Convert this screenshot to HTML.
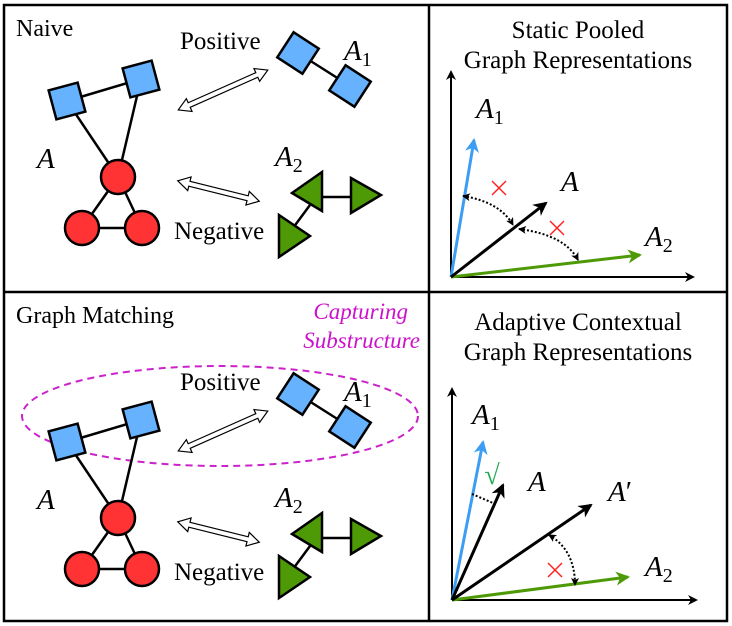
<!DOCTYPE html>
<html><head><meta charset="utf-8"><style>
html,body{margin:0;padding:0;background:#fff;}
svg{display:block;}
svg text{font-family:"Liberation Serif","Times New Roman","DejaVu Serif",serif;}
.it{font-style:italic;}
</style></head><body>
<svg width="732" height="626" viewBox="0 0 732 626" xmlns="http://www.w3.org/2000/svg" font-family="Liberation Serif, DejaVu Serif, serif">
<defs>
<marker id="ah" markerWidth="10" markerHeight="10" refX="8" refY="5" orient="auto" markerUnits="userSpaceOnUse" viewBox="0 0 10 10">
<path d="M0,0 L10,5 L0,10 L3,5 Z" fill="#000"/></marker>
<marker id="ahb" markerWidth="14" markerHeight="14" refX="12" refY="7" orient="auto" markerUnits="userSpaceOnUse" viewBox="0 0 14 14">
<path d="M0,0 L14,7 L0,14 L4,7 Z" fill="#000"/></marker>
<marker id="ahBlue" markerWidth="14" markerHeight="14" refX="12" refY="7" orient="auto" markerUnits="userSpaceOnUse" viewBox="0 0 14 14">
<path d="M0,0 L14,7 L0,14 L4,7 Z" fill="#3d9df3"/></marker>
<marker id="ahGreen" markerWidth="14" markerHeight="14" refX="12" refY="7" orient="auto" markerUnits="userSpaceOnUse" viewBox="0 0 14 14">
<path d="M0,0 L14,7 L0,14 L4,7 Z" fill="#4e9a06"/></marker>
<marker id="ahs" markerWidth="8" markerHeight="8" refX="7" refY="4" orient="auto" markerUnits="userSpaceOnUse" viewBox="0 0 8 8">
<path d="M0,0 L8,4 L0,8 L2,4 Z" fill="#000"/></marker>
<marker id="ahs0" markerWidth="8" markerHeight="8" refX="1" refY="4" orient="auto" markerUnits="userSpaceOnUse" viewBox="0 0 8 8">
<path d="M8,0 L0,4 L8,8 L6,4 Z" fill="#000"/></marker>
<g id="graphA">
<line x1="67" y1="101" x2="141" y2="79" stroke="#000" stroke-width="2.5"/>
<line x1="67" y1="101" x2="118" y2="177" stroke="#000" stroke-width="2.5"/>
<line x1="141" y1="79" x2="118" y2="177" stroke="#000" stroke-width="2.5"/>
<line x1="118" y1="177" x2="82" y2="228" stroke="#000" stroke-width="2.5"/>
<line x1="118" y1="177" x2="142" y2="228" stroke="#000" stroke-width="2.5"/>
<line x1="82" y1="228" x2="142" y2="228" stroke="#000" stroke-width="2.5"/>
<rect x="-15" y="-15" width="30" height="30" fill="#66b2ff" stroke="#000" stroke-width="2.5" transform="translate(67,101) rotate(-15)"/>
<rect x="-15" y="-15" width="30" height="30" fill="#66b2ff" stroke="#000" stroke-width="2.5" transform="translate(141,79) rotate(-15)"/>
<circle cx="118" cy="177" r="17" fill="#ff3333" stroke="#000" stroke-width="2.5"/>
<circle cx="82" cy="228" r="17" fill="#ff3333" stroke="#000" stroke-width="2.5"/>
<circle cx="142" cy="228" r="17" fill="#ff3333" stroke="#000" stroke-width="2.5"/>
<text x="37" y="168" font-size="29" class="it">A</text>
<text x="180" y="49" font-size="25">Positive</text>
<text x="174" y="239" font-size="25">Negative</text>
<polygon points="-49,0 -37,-7 -37,-2.5 37,-2.5 37,-7 49,0 37,7 37,2.5 -37,2.5 -37,7" fill="#fff" stroke="#000" stroke-width="1.2" transform="translate(223,90) rotate(-24)"/>
<polygon points="-42,0 -30,-7 -30,-2.5 30,-2.5 30,-7 42,0 30,7 30,2.5 -30,2.5 -30,7" fill="#fff" stroke="#000" stroke-width="1.2" transform="translate(218.5,191) rotate(14)"/>
<line x1="298" y1="53" x2="350" y2="86" stroke="#000" stroke-width="2.5"/>
<rect x="-15" y="-15" width="30" height="30" fill="#66b2ff" stroke="#000" stroke-width="2.5" transform="translate(298,53) rotate(33)"/>
<rect x="-15" y="-15" width="30" height="30" fill="#66b2ff" stroke="#000" stroke-width="2.5" transform="translate(350,86) rotate(33)"/>
<text x="344" y="60" font-size="29" class="it">A<tspan font-size="20" font-style="normal" dy="6">1</tspan></text>
<text x="275" y="166" font-size="29" class="it">A<tspan font-size="20" font-style="normal" dy="6">2</tspan></text>
<line x1="318" y1="197" x2="360" y2="197" stroke="#000" stroke-width="2.5"/>
<line x1="310" y1="205" x2="293" y2="228" stroke="#000" stroke-width="2.5"/>
<polygon points="292,193 322,172 322,211" fill="#4e9a06" stroke="#000" stroke-width="2.5"/>
<polygon points="351,178 381,195 351,213" fill="#4e9a06" stroke="#000" stroke-width="2.5"/>
<polygon points="279,215 310,236 279,257" fill="#4e9a06" stroke="#000" stroke-width="2.5"/>
</g>
<path id="xm" d="M-7,-7 L7,7 M7,-7 L-7,7" stroke="#ff2222" stroke-width="1.5" fill="none"/>
</defs>

<rect x="4" y="5" width="723" height="616" fill="none" stroke="#000" stroke-width="2.5"/>
<line x1="429" y1="5" x2="429" y2="621" stroke="#000" stroke-width="2.5"/>
<line x1="4" y1="292" x2="727" y2="292" stroke="#000" stroke-width="2.5"/>

<text x="16" y="36" font-size="24">Naive</text>
<use href="#graphA"/>

<text x="16" y="323" font-size="24">Graph Matching</text>
<text x="408" y="319" font-size="23" class="it" fill="#cc11cc" text-anchor="end">Capturing</text>
<text x="420" y="348" font-size="23" class="it" fill="#cc11cc" text-anchor="end">Substructure</text>
<ellipse cx="220" cy="416" rx="198" ry="50" fill="none" stroke="#cc22cc" stroke-width="2" stroke-dasharray="7,5"/>
<use href="#graphA" transform="translate(0,341)"/>

<text x="578" y="38" font-size="25" text-anchor="middle">Static Pooled</text>
<text x="578" y="68" font-size="25" text-anchor="middle">Graph Representations</text>
<line x1="451" y1="277" x2="451" y2="72" stroke="#000" stroke-width="2" marker-end="url(#ah)"/>
<line x1="451" y1="277" x2="693" y2="277" stroke="#000" stroke-width="2" marker-end="url(#ah)"/>
<line x1="451" y1="277" x2="474" y2="140" stroke="#3d9df3" stroke-width="3" marker-end="url(#ahBlue)"/>
<line x1="451" y1="277" x2="640" y2="255" stroke="#4e9a06" stroke-width="3" marker-end="url(#ahGreen)"/>
<line x1="451" y1="277" x2="546" y2="203" stroke="#000" stroke-width="3" marker-end="url(#ahb)"/>
<path d="M463,196 Q500,202 513,225" fill="none" stroke="#000" stroke-width="2" stroke-dasharray="2,2" marker-start="url(#ahs0)" marker-end="url(#ahs)"/>
<path d="M519,229 Q565,235 578,260" fill="none" stroke="#000" stroke-width="2" stroke-dasharray="2,2" marker-start="url(#ahs0)" marker-end="url(#ahs)"/>
<use href="#xm" x="499" y="188"/>
<use href="#xm" x="557" y="228"/>
<text x="476" y="118" font-size="29" class="it">A<tspan font-size="20" font-style="normal" dy="6">1</tspan></text>
<text x="561" y="191" font-size="29" class="it">A</text>
<text x="645" y="246" font-size="29" class="it">A<tspan font-size="20" font-style="normal" dy="6">2</tspan></text>

<text x="578" y="330" font-size="25" text-anchor="middle">Adaptive Contextual</text>
<text x="578" y="360" font-size="25" text-anchor="middle">Graph Representations</text>
<line x1="452" y1="600" x2="452" y2="389" stroke="#000" stroke-width="2" marker-end="url(#ah)"/>
<line x1="452" y1="600" x2="696" y2="600" stroke="#000" stroke-width="2" marker-end="url(#ah)"/>
<line x1="452" y1="600" x2="483" y2="442" stroke="#3d9df3" stroke-width="3" marker-end="url(#ahBlue)"/>
<line x1="452" y1="600" x2="628" y2="577" stroke="#4e9a06" stroke-width="3" marker-end="url(#ahGreen)"/>
<line x1="452" y1="600" x2="503" y2="485" stroke="#000" stroke-width="3" marker-end="url(#ahb)"/>
<line x1="452" y1="600" x2="591" y2="505" stroke="#000" stroke-width="3" marker-end="url(#ahb)"/>
<line x1="472" y1="494" x2="493" y2="503" stroke="#000" stroke-width="2" stroke-dasharray="2,2"/>
<path d="M549,535 Q575,550 575,585" fill="none" stroke="#000" stroke-width="2" stroke-dasharray="2,2" marker-start="url(#ahs0)" marker-end="url(#ahs)"/>
<text x="492" y="484" font-size="28" fill="#22aa55" text-anchor="middle">√</text>
<use href="#xm" x="555" y="570"/>
<text x="472" y="424" font-size="29" class="it">A<tspan font-size="20" font-style="normal" dy="6">1</tspan></text>
<text x="528" y="491" font-size="29" class="it">A</text>
<text x="608" y="501" font-size="29" class="it">A<tspan font-style="normal">′</tspan></text>
<text x="645" y="576" font-size="29" class="it">A<tspan font-size="20" font-style="normal" dy="6">2</tspan></text>
</svg>
</body></html>
